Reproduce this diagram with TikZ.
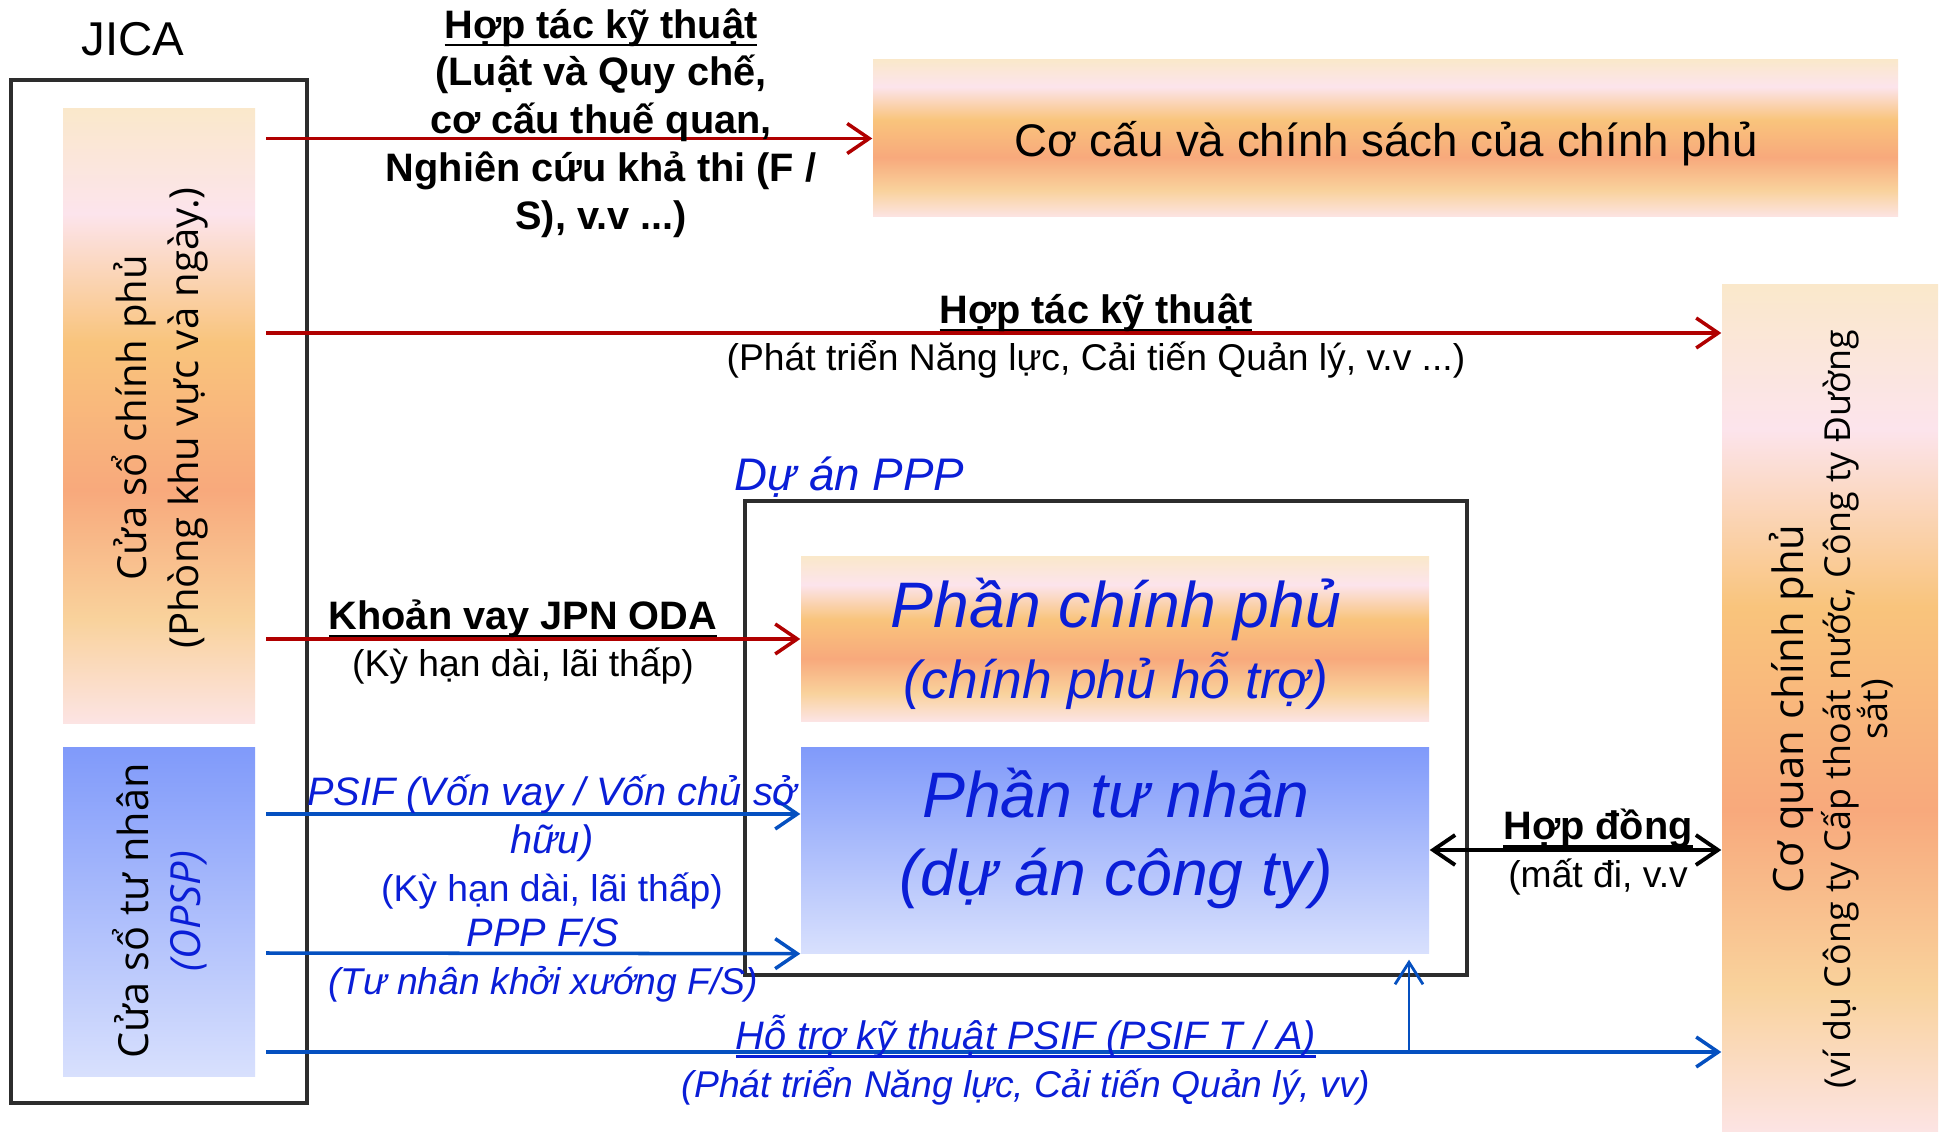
\documentclass[tikz,border=0pt]{standalone}
\usepackage{fontspec}
\setmainfont{Liberation Sans}
\newfontfamily\sidefont{Open Sans}
\usetikzlibrary{arrows.meta}

\definecolor{arrred}{RGB}{176,0,0}
\definecolor{arrblue}{RGB}{5,80,192}
\definecolor{txtblue}{RGB}{10,30,215}
\definecolor{framegray}{RGB}{45,45,45}
\definecolor{sunA}{RGB}{250,232,203}
\definecolor{sunB}{RGB}{252,228,236}
\definecolor{sunC}{RGB}{249,196,124}
\definecolor{sunD}{RGB}{248,169,124}
\definecolor{sunE}{RGB}{249,210,156}
\definecolor{sunF}{RGB}{252,228,228}
\definecolor{skyTop}{RGB}{128,154,250}
\definecolor{skyBot}{RGB}{216,224,253}

\pgfdeclareverticalshading{sunset}{100bp}{color(0bp)=(sunF); color(25bp)=(sunF);
  color(33.5bp)=(sunE); color(44bp)=(sunD); color(56bp)=(sunC);
  color(66.5bp)=(sunB); color(75bp)=(sunA); color(100bp)=(sunA)}

\newsavebox\ulbox
\newcommand\ulin[1]{\sbox\ulbox{#1}\rlap{\rule[-2.3pt]{\wd\ulbox}{0.65pt}}\usebox\ulbox}
\lineskiplimit=-\maxdimen

\begin{document}
\begin{tikzpicture}[
    >={Straight Barb[length=2.2mm,width=3mm]},
    sunbox/.style={shade, shading=sunset, inner sep=0pt},
    skybox/.style={top color=skyTop, bottom color=skyBot, inner sep=0pt},
    frame/.style={draw=framegray, line width=0.9pt, inner sep=0pt},
    redarr/.style={draw=arrred, line width=1pt, ->},
    bluearr/.style={draw=arrblue, line width=1pt, ->},
    lab/.style={align=center, inner sep=0pt, font=\fontsize{11.3}{13.6}\selectfont},
    side/.style={rotate=90, align=center, inner sep=0pt, font=\sidefont\fontsize{11.4}{14.8}\selectfont}
  ]
  \fill[white] (0,0) rectangle (19.48,-11.32);
  \useasboundingbox (0,0) rectangle (19.48,-11.32);

  % JICA side
  \node[font=\fontsize{13.5}{16}\selectfont, inner sep=0pt] (jicalab) at (1.33,-0.39) {JICA};
  \node[frame, minimum width=2.96cm, minimum height=10.23cm] (jica) at (1.59,-5.915) {};
  \node[sunbox, minimum width=1.92cm, minimum height=6.15cm] (govwin) at (1.59,-4.165) {};
  \node[side] (govtxt) at (1.60,-4.18) {Cửa sổ chính phủ\\(Phòng khu vực và ngày.)};
  \node[skybox, minimum width=1.92cm, minimum height=3.29cm] (privwin) at (1.59,-9.115) {};
  \node[side, font=\sidefont\fontsize{11.8}{14.8}\selectfont] (privtxt) at (1.60,-9.11)
    {Cửa sổ tư nhân\\\textcolor{txtblue}{\itshape(OPSP)}};

  % targets
  \node[sunbox, minimum width=10.25cm, minimum height=1.57cm] (policy) at (13.855,-1.385) {};
  \node[inner sep=0pt, font=\fontsize{13}{15}\selectfont] (policytxt) at (13.86,-1.44)
    {Cơ cấu và chính sách của chính phủ};
  \node[sunbox, minimum width=2.16cm, minimum height=8.47cm] (agency) at (18.30,-7.085) {};
  \node[side, font=\sidefont\fontsize{10.2}{10.5}\selectfont] (agencytxt) at (18.31,-7.09)
    {{\fontsize{11.9}{14}\selectfont Cơ quan chính phủ}\\[2.9pt](ví dụ Công ty Cấp thoát nước, Công ty Đường\\sắt)};

  % PPP project
  \node[frame, minimum width=7.22cm, minimum height=4.74cm] (ppp) at (11.06,-7.38) {};
  \node[anchor=west, inner sep=0pt, text=txtblue, font=\itshape\fontsize{13}{15}\selectfont]
    (ppplab) at (7.34,-4.77) {Dự án PPP};
  \node[sunbox, minimum width=6.28cm, minimum height=1.64cm] (govpart) at (11.15,-6.39) {};
  \node[align=center, inner sep=0pt, text=txtblue, font=\itshape\fontsize{18.3}{20.2}\selectfont]
    (govparttxt) at (11.16,-6.44) {Phần chính phủ\\{\fontsize{15.2}{20.2}\selectfont(chính phủ hỗ trợ)}};
  \node[skybox, minimum width=6.28cm, minimum height=2.06cm] (privpart) at (11.15,-8.50) {};
  \node[align=center, inner sep=0pt, text=txtblue, font=\itshape\fontsize{18.3}{22.2}\selectfont]
    (privparttxt) at (11.16,-8.38) {Phần tư nhân\\(dự án công ty)};

  % arrows
  \coordinate (srcA) at (2.66,-1.385);
  \coordinate (srcB) at (2.66,-3.33);
  \coordinate (srcC) at (2.66,-6.39);
  \coordinate (srcD) at (2.66,-8.14);
  \coordinate (srcE) at (2.66,-9.53);
  \coordinate (srcF) at (2.66,-10.52);
  \coordinate (branch) at (14.09,-10.52);
  \draw[redarr] (srcA) -- (policy.west);
  \draw[redarr] (srcB) -- (srcB -| agency.west);
  \draw[redarr] (srcC) -- (govpart.west);
  \draw[bluearr] (srcD) -- (srcD -| privpart.west);
  \draw[bluearr] (srcE) -- (privpart.south west);
  \draw[bluearr] (srcF) -- (srcF -| agency.west);
  \draw[draw=arrblue, line width=0.6pt, -{Straight Barb[length=2.2mm,width=2.8mm,line width=0.8pt]},
    shorten >=0.06cm] (branch) -- (branch |- privpart.south);
  \draw[black, line width=1.1pt, <->] (privpart.east) -- (privpart.east -| agency.west);

  % labels
  \node[lab, font=\bfseries\fontsize{11.3}{13.6}\selectfont] (labtop) at (6.01,-1.23)
    {\ulin{Hợp tác kỹ thuật}\\(Luật và Quy chế,\\cơ cấu thuế quan,\\Nghiên cứu khả thi (F /\\S), v.v ...)};
  \node[lab] (labcap) at (10.96,-3.36)
    {\textbf{\ulin{Hợp tác kỹ thuật}}\\{\fontsize{10.6}{13.6}\selectfont(Phát triển Năng lực, Cải tiến Quản lý, v.v ...)}};
  \node[lab] (laboda) at (5.23,-6.42)
    {\textbf{\ulin{Khoản vay JPN ODA}}\\{\fontsize{10.6}{13.6}\selectfont(Kỳ hạn dài, lãi thấp)}};
  \node[lab, text=txtblue, font=\itshape\fontsize{11.3}{13.6}\selectfont] (labpsif) at (5.52,-8.42)
    {PSIF (Vốn vay / Vốn chủ sở\\hữu)\\{\upshape\fontsize{10.6}{13.6}\selectfont(Kỳ hạn dài, lãi thấp)}};
  \node[lab, text=txtblue, font=\itshape\fontsize{11.3}{13.6}\selectfont] (labfs) at (5.43,-9.60)
    {PPP F/S\\{\fontsize{10.6}{13.6}\selectfont(Tư nhân khởi xướng F/S)}};
  \node[lab, text=txtblue, font=\itshape\fontsize{11.3}{13.6}\selectfont] (labta) at (10.26,-10.60)
    {\ulin{Hỗ trợ kỹ thuật PSIF (PSIF T / A)}\\{\fontsize{10.6}{13.6}\selectfont(Phát triển Năng lực, Cải tiến Quản lý, vv)}};
  \node[lab] (labdeal) at (15.98,-8.52)
    {\textbf{\ulin{Hợp đồng}}\\{\fontsize{10.6}{13.6}\selectfont(mất đi, v.v}};
\end{tikzpicture}
\end{document}
